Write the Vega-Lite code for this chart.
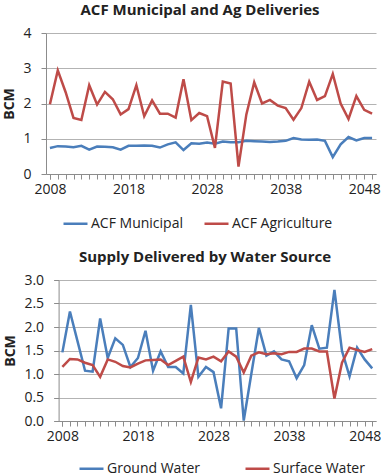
{
  "$schema": "https://vega.github.io/schema/vega-lite/v6.json",
  "padding": {"left": 2, "top": 3, "right": 0, "bottom": 0},
  "background": "white",
  "config": {
    "font": "Open Sans",
    "view": {"stroke": null},
    "axis": {
      "labelFont": "Open Sans",
      "labelFontSize": 14,
      "labelColor": "#222222",
      "domainColor": "#8c8c8c",
      "tickColor": "#8c8c8c",
      "gridColor": "#b3b3b3",
      "tickSize": 5,
      "titleFont": "Open Sans",
      "titleFontSize": 14,
      "titleFontWeight": "bold",
      "titleColor": "#222222"
    },
    "axisX": {"grid": false, "labelAngle": 0, "labelPadding": 3, "tickBand": "extent", "labelOverlap": false},
    "axisY": {"grid": true, "labelPadding": 10, "titlePadding": 6},
    "title": {"font": "Open Sans", "fontSize": 15, "fontWeight": "bold", "color": "#222222", "baseline": "bottom", "offset": 8, "anchor": "middle", "frame": "group"},
    "legend": {"orient": "none", "direction": "horizontal", "symbolType": "stroke", "symbolSize": 576, "symbolStrokeWidth": 2.5, "labelFont": "Open Sans", "labelFontSize": 14, "labelColor": "#222222", "labelOffset": 2, "padding": 0, "title": null}
  },
  "datasets": {
    "acf": [
      {"year": 2008, "series": "ACF Municipal", "value": 0.74}, {"year": 2008, "series": "ACF Agriculture", "value": 1.98},
      {"year": 2009, "series": "ACF Municipal", "value": 0.79}, {"year": 2009, "series": "ACF Agriculture", "value": 2.94},
      {"year": 2010, "series": "ACF Municipal", "value": 0.78}, {"year": 2010, "series": "ACF Agriculture", "value": 2.32},
      {"year": 2011, "series": "ACF Municipal", "value": 0.76}, {"year": 2011, "series": "ACF Agriculture", "value": 1.59},
      {"year": 2012, "series": "ACF Municipal", "value": 0.80}, {"year": 2012, "series": "ACF Agriculture", "value": 1.53},
      {"year": 2013, "series": "ACF Municipal", "value": 0.69}, {"year": 2013, "series": "ACF Agriculture", "value": 2.52},
      {"year": 2014, "series": "ACF Municipal", "value": 0.78}, {"year": 2014, "series": "ACF Agriculture", "value": 1.97},
      {"year": 2015, "series": "ACF Municipal", "value": 0.77}, {"year": 2015, "series": "ACF Agriculture", "value": 2.33},
      {"year": 2016, "series": "ACF Municipal", "value": 0.76}, {"year": 2016, "series": "ACF Agriculture", "value": 2.12},
      {"year": 2017, "series": "ACF Municipal", "value": 0.69}, {"year": 2017, "series": "ACF Agriculture", "value": 1.69},
      {"year": 2018, "series": "ACF Municipal", "value": 0.80}, {"year": 2018, "series": "ACF Agriculture", "value": 1.84},
      {"year": 2019, "series": "ACF Municipal", "value": 0.80}, {"year": 2019, "series": "ACF Agriculture", "value": 2.52},
      {"year": 2020, "series": "ACF Municipal", "value": 0.81}, {"year": 2020, "series": "ACF Agriculture", "value": 1.64},
      {"year": 2021, "series": "ACF Municipal", "value": 0.80}, {"year": 2021, "series": "ACF Agriculture", "value": 2.09},
      {"year": 2022, "series": "ACF Municipal", "value": 0.75}, {"year": 2022, "series": "ACF Agriculture", "value": 1.71},
      {"year": 2023, "series": "ACF Municipal", "value": 0.84}, {"year": 2023, "series": "ACF Agriculture", "value": 1.71},
      {"year": 2024, "series": "ACF Municipal", "value": 0.90}, {"year": 2024, "series": "ACF Agriculture", "value": 1.60},
      {"year": 2025, "series": "ACF Municipal", "value": 0.68}, {"year": 2025, "series": "ACF Agriculture", "value": 2.69},
      {"year": 2026, "series": "ACF Municipal", "value": 0.87}, {"year": 2026, "series": "ACF Agriculture", "value": 1.53},
      {"year": 2027, "series": "ACF Municipal", "value": 0.86}, {"year": 2027, "series": "ACF Agriculture", "value": 1.73},
      {"year": 2028, "series": "ACF Municipal", "value": 0.89}, {"year": 2028, "series": "ACF Agriculture", "value": 1.64},
      {"year": 2029, "series": "ACF Municipal", "value": 0.86}, {"year": 2029, "series": "ACF Agriculture", "value": 0.74},
      {"year": 2030, "series": "ACF Municipal", "value": 0.92}, {"year": 2030, "series": "ACF Agriculture", "value": 2.62},
      {"year": 2031, "series": "ACF Municipal", "value": 0.90}, {"year": 2031, "series": "ACF Agriculture", "value": 2.57},
      {"year": 2032, "series": "ACF Municipal", "value": 0.90}, {"year": 2032, "series": "ACF Agriculture", "value": 0.21},
      {"year": 2033, "series": "ACF Municipal", "value": 0.94}, {"year": 2033, "series": "ACF Agriculture", "value": 1.69},
      {"year": 2034, "series": "ACF Municipal", "value": 0.93}, {"year": 2034, "series": "ACF Agriculture", "value": 2.60},
      {"year": 2035, "series": "ACF Municipal", "value": 0.92}, {"year": 2035, "series": "ACF Agriculture", "value": 2.00},
      {"year": 2036, "series": "ACF Municipal", "value": 0.91}, {"year": 2036, "series": "ACF Agriculture", "value": 2.10},
      {"year": 2037, "series": "ACF Municipal", "value": 0.92}, {"year": 2037, "series": "ACF Agriculture", "value": 1.94},
      {"year": 2038, "series": "ACF Municipal", "value": 0.94}, {"year": 2038, "series": "ACF Agriculture", "value": 1.87},
      {"year": 2039, "series": "ACF Municipal", "value": 1.02}, {"year": 2039, "series": "ACF Agriculture", "value": 1.54},
      {"year": 2040, "series": "ACF Municipal", "value": 0.98}, {"year": 2040, "series": "ACF Agriculture", "value": 1.87},
      {"year": 2041, "series": "ACF Municipal", "value": 0.97}, {"year": 2041, "series": "ACF Agriculture", "value": 2.62},
      {"year": 2042, "series": "ACF Municipal", "value": 0.98}, {"year": 2042, "series": "ACF Agriculture", "value": 2.10},
      {"year": 2043, "series": "ACF Municipal", "value": 0.94}, {"year": 2043, "series": "ACF Agriculture", "value": 2.21},
      {"year": 2044, "series": "ACF Municipal", "value": 0.48}, {"year": 2044, "series": "ACF Agriculture", "value": 2.84},
      {"year": 2045, "series": "ACF Municipal", "value": 0.84}, {"year": 2045, "series": "ACF Agriculture", "value": 2.00},
      {"year": 2046, "series": "ACF Municipal", "value": 1.05}, {"year": 2046, "series": "ACF Agriculture", "value": 1.56},
      {"year": 2047, "series": "ACF Municipal", "value": 0.95}, {"year": 2047, "series": "ACF Agriculture", "value": 2.21},
      {"year": 2048, "series": "ACF Municipal", "value": 1.02}, {"year": 2048, "series": "ACF Agriculture", "value": 1.82},
      {"year": 2049, "series": "ACF Municipal", "value": 1.02}, {"year": 2049, "series": "ACF Agriculture", "value": 1.71}
    ],
    "supply": [
      {"year": 2008, "series": "Ground Water", "value": 1.46}, {"year": 2008, "series": "Surface  Water", "value": 1.15},
      {"year": 2009, "series": "Ground Water", "value": 2.33}, {"year": 2009, "series": "Surface  Water", "value": 1.32},
      {"year": 2010, "series": "Ground Water", "value": 1.70}, {"year": 2010, "series": "Surface  Water", "value": 1.31},
      {"year": 2011, "series": "Ground Water", "value": 1.07}, {"year": 2011, "series": "Surface  Water", "value": 1.24},
      {"year": 2012, "series": "Ground Water", "value": 1.05}, {"year": 2012, "series": "Surface  Water", "value": 1.19},
      {"year": 2013, "series": "Ground Water", "value": 2.18}, {"year": 2013, "series": "Surface  Water", "value": 0.94},
      {"year": 2014, "series": "Ground Water", "value": 1.34}, {"year": 2014, "series": "Surface  Water", "value": 1.31},
      {"year": 2015, "series": "Ground Water", "value": 1.76}, {"year": 2015, "series": "Surface  Water", "value": 1.26},
      {"year": 2016, "series": "Ground Water", "value": 1.62}, {"year": 2016, "series": "Surface  Water", "value": 1.17},
      {"year": 2017, "series": "Ground Water", "value": 1.15}, {"year": 2017, "series": "Surface  Water", "value": 1.14},
      {"year": 2018, "series": "Ground Water", "value": 1.34}, {"year": 2018, "series": "Surface  Water", "value": 1.22},
      {"year": 2019, "series": "Ground Water", "value": 1.92}, {"year": 2019, "series": "Surface  Water", "value": 1.29},
      {"year": 2020, "series": "Ground Water", "value": 1.07}, {"year": 2020, "series": "Surface  Water", "value": 1.30},
      {"year": 2021, "series": "Ground Water", "value": 1.48}, {"year": 2021, "series": "Surface  Water", "value": 1.31},
      {"year": 2022, "series": "Ground Water", "value": 1.15}, {"year": 2022, "series": "Surface  Water", "value": 1.19},
      {"year": 2023, "series": "Ground Water", "value": 1.15}, {"year": 2023, "series": "Surface  Water", "value": 1.28},
      {"year": 2024, "series": "Ground Water", "value": 1.01}, {"year": 2024, "series": "Surface  Water", "value": 1.37},
      {"year": 2025, "series": "Ground Water", "value": 2.47}, {"year": 2025, "series": "Surface  Water", "value": 0.83},
      {"year": 2026, "series": "Ground Water", "value": 0.94}, {"year": 2026, "series": "Surface  Water", "value": 1.35},
      {"year": 2027, "series": "Ground Water", "value": 1.15}, {"year": 2027, "series": "Surface  Water", "value": 1.31},
      {"year": 2028, "series": "Ground Water", "value": 1.04}, {"year": 2028, "series": "Surface  Water", "value": 1.37},
      {"year": 2029, "series": "Ground Water", "value": 0.27}, {"year": 2029, "series": "Surface  Water", "value": 1.27},
      {"year": 2030, "series": "Ground Water", "value": 1.97}, {"year": 2030, "series": "Surface  Water", "value": 1.48},
      {"year": 2031, "series": "Ground Water", "value": 1.97}, {"year": 2031, "series": "Surface  Water", "value": 1.37},
      {"year": 2032, "series": "Ground Water", "value": 0.01}, {"year": 2032, "series": "Surface  Water", "value": 1.03},
      {"year": 2033, "series": "Ground Water", "value": 1.00}, {"year": 2033, "series": "Surface  Water", "value": 1.39},
      {"year": 2034, "series": "Ground Water", "value": 1.98}, {"year": 2034, "series": "Surface  Water", "value": 1.46},
      {"year": 2035, "series": "Ground Water", "value": 1.39}, {"year": 2035, "series": "Surface  Water", "value": 1.42},
      {"year": 2036, "series": "Ground Water", "value": 1.48}, {"year": 2036, "series": "Surface  Water", "value": 1.44},
      {"year": 2037, "series": "Ground Water", "value": 1.31}, {"year": 2037, "series": "Surface  Water", "value": 1.42},
      {"year": 2038, "series": "Ground Water", "value": 1.27}, {"year": 2038, "series": "Surface  Water", "value": 1.47},
      {"year": 2039, "series": "Ground Water", "value": 0.91}, {"year": 2039, "series": "Surface  Water", "value": 1.47},
      {"year": 2040, "series": "Ground Water", "value": 1.19}, {"year": 2040, "series": "Surface  Water", "value": 1.54},
      {"year": 2041, "series": "Ground Water", "value": 2.04}, {"year": 2041, "series": "Surface  Water", "value": 1.54},
      {"year": 2042, "series": "Ground Water", "value": 1.54}, {"year": 2042, "series": "Surface  Water", "value": 1.48},
      {"year": 2043, "series": "Ground Water", "value": 1.56}, {"year": 2043, "series": "Surface  Water", "value": 1.48},
      {"year": 2044, "series": "Ground Water", "value": 2.79}, {"year": 2044, "series": "Surface  Water", "value": 0.48},
      {"year": 2045, "series": "Ground Water", "value": 1.49}, {"year": 2045, "series": "Surface  Water", "value": 1.24},
      {"year": 2046, "series": "Ground Water", "value": 0.95}, {"year": 2046, "series": "Surface  Water", "value": 1.56},
      {"year": 2047, "series": "Ground Water", "value": 1.56}, {"year": 2047, "series": "Surface  Water", "value": 1.51},
      {"year": 2048, "series": "Ground Water", "value": 1.31}, {"year": 2048, "series": "Surface  Water", "value": 1.47},
      {"year": 2049, "series": "Ground Water", "value": 1.12}, {"year": 2049, "series": "Surface  Water", "value": 1.53}
    ]
  },
  "columns": 1,
  "spacing": 19,
  "resolve": {"scale": {"color": "independent", "x": "independent", "y": "independent"}, "legend": {"color": "independent"}},
  "concat": [
    {
      "title": {"text": "ACF Municipal and Ag Deliveries", "dx": -11},
      "width": 330,
      "height": 141,
      "data": {"name": "acf"},
      "mark": {"type": "line", "strokeWidth": 2.5},
      "encoding": {
        "x": {"field": "year", "type": "ordinal", "scale": {"paddingInner": 0, "paddingOuter": 0},
              "axis": {"title": null, "labelExpr": "datum.value % 10 == 8 ? datum.label : ''"}},
        "y": {"field": "value", "type": "quantitative", "scale": {"domain": [0, 4]},
              "axis": {"title": "BCM", "values": [0, 1, 2, 3, 4]}},
        "color": {"field": "series", "type": "nominal",
                  "scale": {"domain": ["ACF Municipal", "ACF Agriculture"], "range": ["#4a7ebb", "#be4b48"]},
                  "legend": {"legendX": 16, "legendY": 177, "columnPadding": 16}}
      }
    },
    {
      "title": {"text": "Supply Delivered by Water Source", "dx": -6},
      "width": 330,
      "height": 141,
      "data": {"name": "supply"},
      "mark": {"type": "line", "strokeWidth": 2.5},
      "encoding": {
        "x": {"field": "year", "type": "ordinal", "scale": {"paddingInner": 0, "paddingOuter": 0, "range": [12.6, 330]},
              "axis": {"title": null, "labelExpr": "datum.value % 10 == 8 ? datum.label : ''"}},
        "y": {"field": "value", "type": "quantitative", "scale": {"domain": [0, 3]},
              "axis": {"title": "BCM", "offset": -12.6, "values": [0, 0.5, 1, 1.5, 2, 2.5, 3], "format": ".1f"}},
        "color": {"field": "series", "type": "nominal",
                  "scale": {"domain": ["Ground Water", "Surface  Water"], "range": ["#4a7ebb", "#be4b48"]},
                  "legend": {"legendX": 32, "legendY": 175, "columnPadding": 40}}
      }
    }
  ]
}
